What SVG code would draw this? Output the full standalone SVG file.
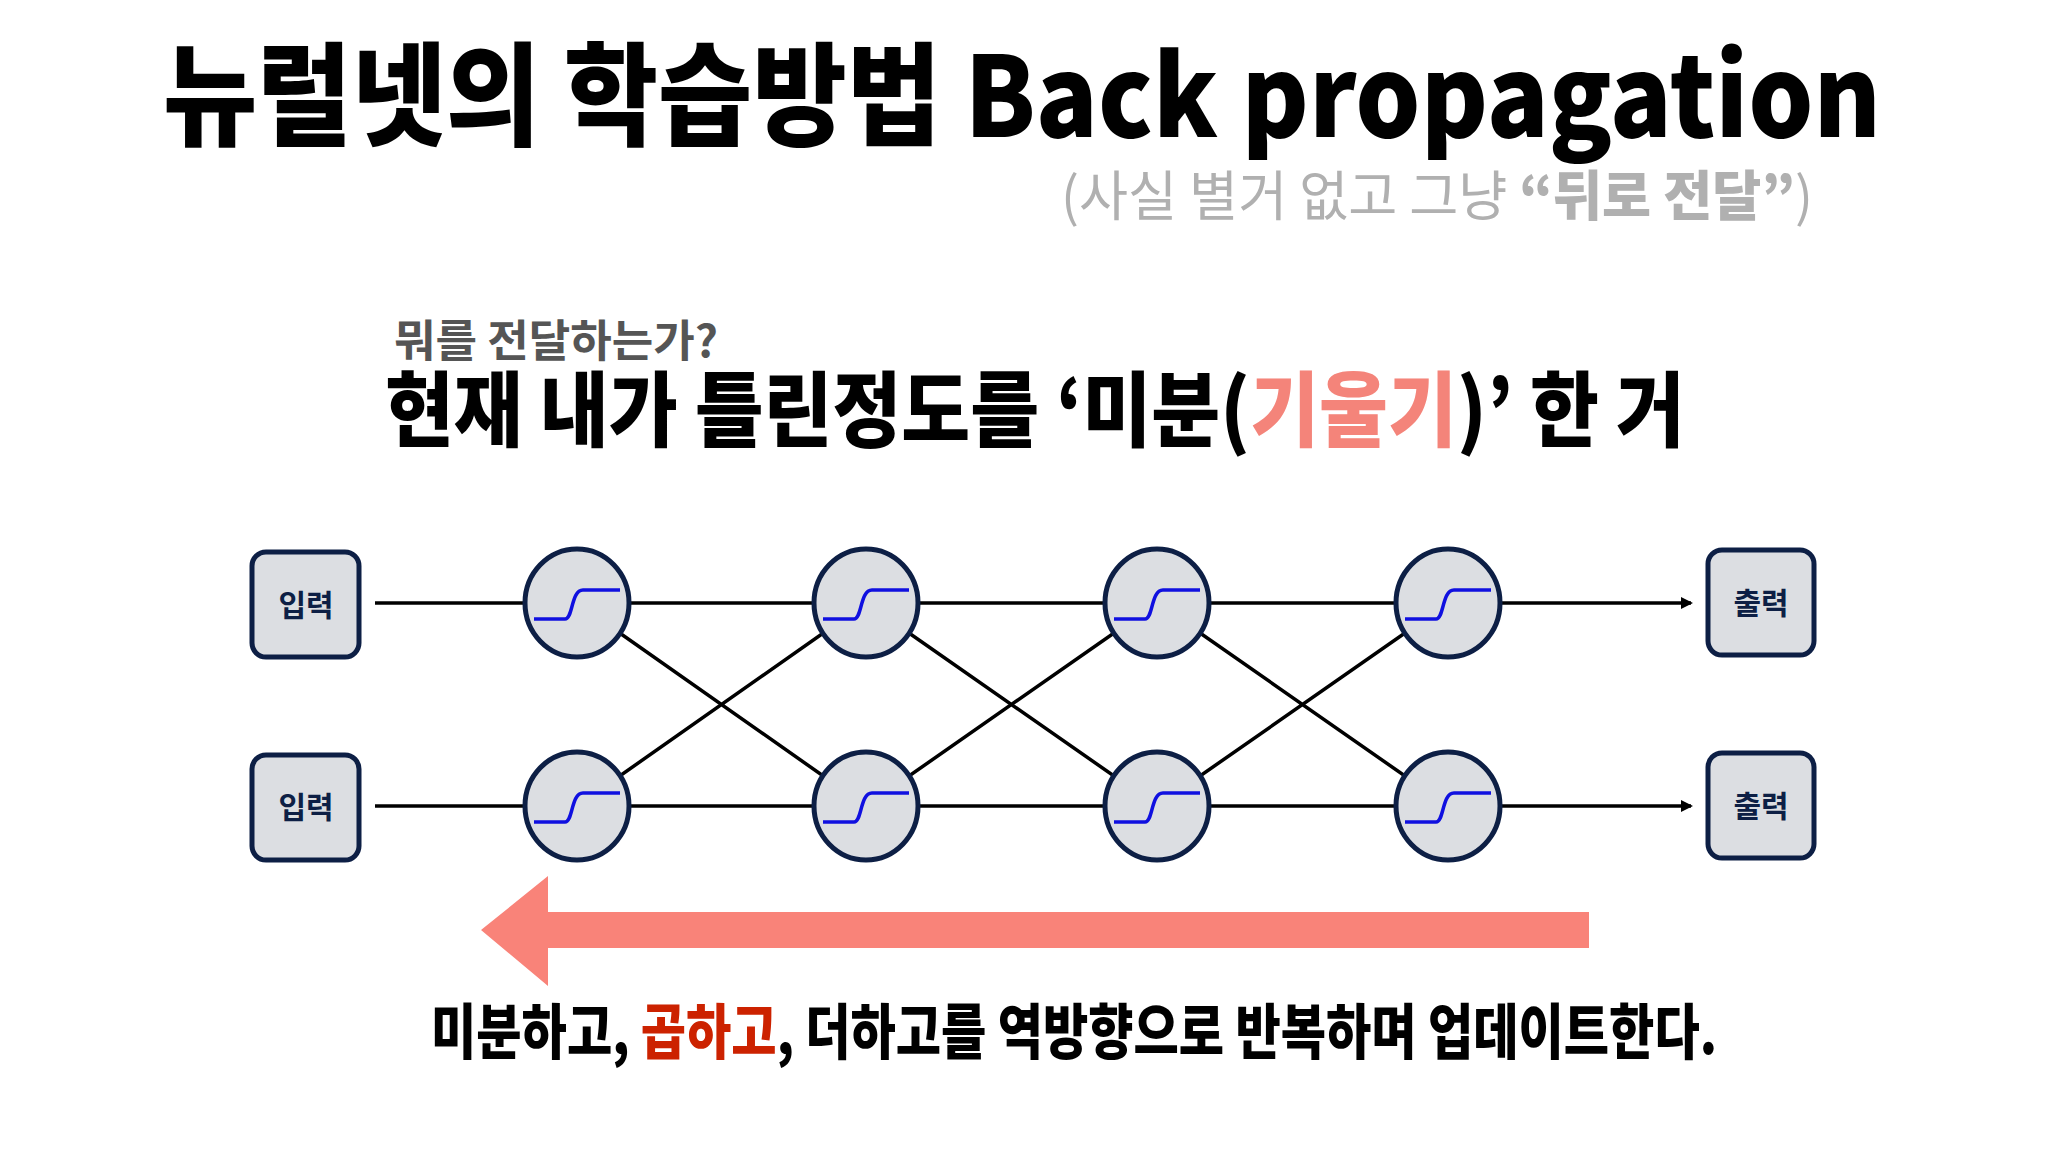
<svg xmlns="http://www.w3.org/2000/svg" width="2048" height="1152" viewBox="0 0 2048 1152">
<defs>
<style>
.t{font-family:"Noto Sans CJK KR","Noto Sans",sans-serif;font-weight:900}
.box{fill:#dcdee2;stroke:#0d1f45;stroke-width:5}
.neu{fill:#dcdee2;stroke:#0d1f45;stroke-width:5}
.sig{fill:none;stroke:#1010e0;stroke-width:3.5}
.ln{stroke:#000;stroke-width:3.5;fill:none}
.lbl{font-family:"Noto Sans CJK KR",sans-serif;font-weight:700;font-size:30px;fill:#0d1f45}
</style>
<marker id="ah" markerWidth="12" markerHeight="12" refX="10" refY="6" orient="auto" markerUnits="userSpaceOnUse" viewBox="0 0 12 12"><path d="M0,0 L12,6 L0,12z" fill="#000"/></marker>
<g id="sg"><path class="sig" d="M-43,16 H-12 C-4,16 -6,-13 6,-13 H43"/></g>
</defs>
<rect width="2048" height="1152" fill="#fff"/>
<text class="t" x="1022" y="137" font-size="112" text-anchor="middle" textLength="1718" lengthAdjust="spacingAndGlyphs">뉴럴넷의 학습방법 Back propagation</text>
<text x="1437" y="216" font-size="54" fill="#b0b0b0" text-anchor="middle" textLength="752" lengthAdjust="spacingAndGlyphs" style="font-family:'Noto Sans CJK KR',sans-serif;font-weight:400">(사실 별거 없고 그냥 <tspan style="font-weight:900">“뒤로 전달”</tspan>)</text>
<text class="t" x="394" y="357" font-size="44" fill="#555" textLength="324" lengthAdjust="spacingAndGlyphs" style="font-weight:700">뭐를 전달하는가?</text>
<text class="t" x="385" y="440" font-size="82" textLength="1300" lengthAdjust="spacingAndGlyphs">현재 내가 틀린정도를 ‘미분(<tspan fill="#f4847a">기울기</tspan>)’ 한 거</text>
<g id="connectors">
<line class="ln" x1="375" y1="603" x2="524" y2="603"/>
<line class="ln" x1="375" y1="806" x2="524" y2="806"/>
<line class="ln" x1="577" y1="603" x2="1448" y2="603"/>
<line class="ln" x1="577" y1="806" x2="1448" y2="806"/>
<line class="ln" x1="1500" y1="603" x2="1691" y2="603" marker-end="url(#ah)"/>
<line class="ln" x1="1500" y1="806" x2="1691" y2="806" marker-end="url(#ah)"/>
<path class="ln" d="M577,603 L866,806 M577,806 L866,603 M866,603 L1157,806 M866,806 L1157,603 M1157,603 L1448,806 M1157,806 L1448,603"/>
</g>
<g id="in1"><rect class="box" x="252" y="552" width="107" height="105" rx="14"/><text class="lbl" x="306" y="616" text-anchor="middle">입력</text></g>
<g id="in2"><rect class="box" x="252" y="755" width="107" height="105" rx="14"/><text class="lbl" x="306" y="818" text-anchor="middle">입력</text></g>
<g id="out1"><rect class="box" x="1708" y="550" width="106" height="105" rx="14"/><text class="lbl" x="1761" y="614" text-anchor="middle">출력</text></g>
<g id="out2"><rect class="box" x="1708" y="753" width="106" height="105" rx="14"/><text class="lbl" x="1761" y="817" text-anchor="middle">출력</text></g>
<g id="n11"><ellipse class="neu" cx="577" cy="603" rx="52" ry="54"/><use href="#sg" x="577" y="603"/></g>
<g id="n12"><ellipse class="neu" cx="577" cy="806" rx="52" ry="54"/><use href="#sg" x="577" y="806"/></g>
<g id="n21"><ellipse class="neu" cx="866" cy="603" rx="52" ry="54"/><use href="#sg" x="866" y="603"/></g>
<g id="n22"><ellipse class="neu" cx="866" cy="806" rx="52" ry="54"/><use href="#sg" x="866" y="806"/></g>
<g id="n31"><ellipse class="neu" cx="1157" cy="603" rx="52" ry="54"/><use href="#sg" x="1157" y="603"/></g>
<g id="n32"><ellipse class="neu" cx="1157" cy="806" rx="52" ry="54"/><use href="#sg" x="1157" y="806"/></g>
<g id="n41"><ellipse class="neu" cx="1448" cy="603" rx="52" ry="54"/><use href="#sg" x="1448" y="603"/></g>
<g id="n42"><ellipse class="neu" cx="1448" cy="806" rx="52" ry="54"/><use href="#sg" x="1448" y="806"/></g>
<polygon points="1589,912 548,912 548,876 481,930 548,986 548,948 1589,948" fill="#f98379"/>
<text class="t" x="1074" y="1054" font-size="60" text-anchor="middle" textLength="1286" lengthAdjust="spacingAndGlyphs">미분하고, <tspan fill="#cc2200">곱하고</tspan>, 더하고를 역방향으로 반복하며 업데이트한다.</text>
</svg>
